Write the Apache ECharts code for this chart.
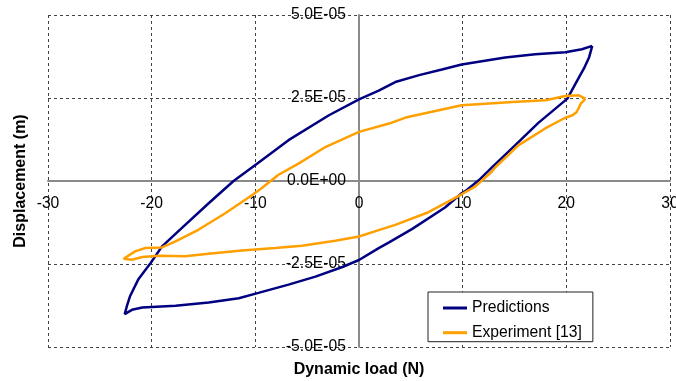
<!DOCTYPE html>
<html>
<head>
<meta charset="utf-8">
<script src="https://cdn.jsdelivr.net/npm/echarts@6/dist/echarts.min.js"></script>
<style>
  html, body { margin: 0; padding: 0; background: #fff; }
  #chart { width: 676px; height: 381px; }
</style>
</head>
<body>
<div id="chart"></div>
<script>
// Hysteresis loops: displacement versus dynamic load
const loadTicks = [-30, -20, -10, 0, 10, 20, 30];
const dispTicks = [-5.0e-5, -2.5e-5, 0, 2.5e-5, 5.0e-5];

// Predictions loop (load in N, displacement in m)
const predLoad = [22.5, 21.5, 19.9, 17.0, 14.1, 9.9, 8.0, 5.8, 3.5, 1.9, 0, -2.9, -6.8, -10.0, -12.1, -14.5, -17.0, -19.0, -20.1, -21.3, -22.1, -22.4, -22.6,
  -21.9, -20.9, -17.7, -14.5, -11.6, -9.7, -6.8, -4.2, -1.6, 0, 1.9, 2.9, 5.1, 8.3, 9.9, 10.4, 11.55, 12.8, 14.8, 17.3, 20.1, 20.9, 21.7, 22.2, 22.5];
const predDisp = [4.07e-5, 3.97e-5, 3.88e-5, 3.82e-5, 3.72e-5, 3.51e-5, 3.36e-5, 3.19e-5, 2.98e-5, 2.72e-5, 2.46e-5, 1.98e-5, 1.23e-5, 0.48e-5, 0.0, -0.67e-5, -1.39e-5, -1.97e-5, -2.47e-5, -2.97e-5, -3.48e-5, -3.78e-5, -4.01e-5,
  -3.88e-5, -3.81e-5, -3.76e-5, -3.66e-5, -3.53e-5, -3.37e-5, -3.12e-5, -2.88e-5, -2.59e-5, -2.38e-5, -2.02e-5, -1.85e-5, -1.45e-5, -0.80e-5, -0.37e-5, -0.27e-5, 0.02e-5, 0.40e-5, 1.0e-5, 1.75e-5, 2.48e-5, 2.94e-5, 3.39e-5, 3.73e-5, 4.07e-5];

// Experiment [13] loop
const expLoad = [21.85, 21.2, 19.9, 18.0, 14.8, 12.2, 9.9, 7.7, 4.5, 2.9, 0, -3.2, -5.8, -7.8, -9.4, -10.3, -12.9, -15.5, -17.7, -19.0, -20.6, -21.6, -22.7,
  -21.9, -20.9, -19.3, -16.8, -14.5, -11.3, -8.1, -5.5, -2.3, 0, 1.9, 3.5, 6.7, 8.6, 9.9, 11.2, 12.8, 13.2, 15.4, 18.0, 19.8, 20.6, 21.0, 21.4, 21.85];
const expDisp = [2.48e-5, 2.58e-5, 2.56e-5, 2.43e-5, 2.38e-5, 2.33e-5, 2.28e-5, 2.13e-5, 1.91e-5, 1.73e-5, 1.48e-5, 1.03e-5, 0.53e-5, 0.18e-5, -0.22e-5, -0.42e-5, -0.97e-5, -1.47e-5, -1.82e-5, -2.0e-5, -2.02e-5, -2.12e-5, -2.34e-5,
  -2.37e-5, -2.29e-5, -2.25e-5, -2.27e-5, -2.19e-5, -2.09e-5, -2.02e-5, -1.95e-5, -1.80e-5, -1.67e-5, -1.48e-5, -1.32e-5, -0.94e-5, -0.62e-5, -0.40e-5, -0.17e-5, 0.28e-5, 0.43e-5, 1.08e-5, 1.59e-5, 1.89e-5, 1.98e-5, 2.08e-5, 2.33e-5, 2.48e-5];

const seriesNames = ['Predictions', 'Experiment [13]'];
const FONT = '"Liberation Sans", Arial, sans-serif';

// plot box in pixels; the axes cross at the origin, halfway in each direction
const GRID = { left: 48, right: 6, top: 15, bottom: 34 };
const plotW = 676 - GRID.left - GRID.right;
const plotH = 381 - GRID.top - GRID.bottom;

function pairs(xs, ys) { return xs.map((x, i) => [x, ys[i]]); }

function sciLabel(v) {
  if (Math.abs(v) < 1e-15) v = 0;
  const m = v.toExponential(1).match(/^(-?[\d.]+)e([+-])(\d+)$/);
  return m[1] + 'E' + m[2] + m[3].padStart(2, '0');
}

const chart = echarts.init(document.getElementById('chart'), null, { renderer: 'canvas' });
chart.setOption({
  animation: false,
  backgroundColor: '#fff',
  grid: Object.assign({ containLabel: false, outerBoundsMode: 'none' }, GRID),
  xAxis: {
    type: 'value',
    min: loadTicks[0], max: loadTicks[loadTicks.length - 1], interval: 10,
    offset: -plotH / 2,
    axisLine: { onZero: false, lineStyle: { color: '#8a8a8a', width: 2 } },
    axisTick: { show: false },
    axisLabel: { color: '#000', fontFamily: FONT, fontSize: 15.7, margin: 15 },
    splitLine: { show: true, lineStyle: { color: '#444', type: [3, 3], width: 1 } }
  },
  yAxis: {
    type: 'value',
    min: dispTicks[0], max: dispTicks[dispTicks.length - 1], interval: 2.5e-5,
    offset: -plotW / 2,
    axisLine: { onZero: false, lineStyle: { color: '#8a8a8a', width: 2 } },
    axisTick: { show: false },
    axisLabel: { color: '#000', fontFamily: FONT, fontSize: 15.7, margin: 13, formatter: sciLabel },
    splitLine: { show: true, lineStyle: { color: '#444', type: [3, 3], width: 1 } }
  },
  legend: {
    orient: 'vertical',
    left: 428, top: 292,
    padding: [8, 11, 1, 15],
    itemGap: 8.7,
    icon: 'rect',
    itemWidth: 24, itemHeight: 3,
    borderColor: '#222', borderWidth: 1, borderRadius: 0,
    backgroundColor: '#fff',
    data: seriesNames,
    textStyle: { color: '#000', fontFamily: FONT, fontSize: 15.7 }
  },
  graphic: [
    { type: 'text', x: 359, y: 370,
      style: { text: 'Dynamic load (N)', font: 'bold 16px ' + FONT, fill: '#000', align: 'center', verticalAlign: 'middle' } },
    { type: 'text', x: 21, y: 181, rotation: Math.PI / 2,
      style: { text: 'Displacement (m)', font: 'bold 16px ' + FONT, fill: '#000', align: 'center', verticalAlign: 'middle' } }
  ],
  series: [
    { name: seriesNames[0], type: 'line', data: pairs(predLoad, predDisp),
      showSymbol: false, symbol: 'none', smooth: false,
      lineStyle: { color: '#000080', width: 2.5 }, itemStyle: { color: '#000080' } },
    { name: seriesNames[1], type: 'line', data: pairs(expLoad, expDisp),
      showSymbol: false, symbol: 'none', smooth: false,
      lineStyle: { color: '#FFA000', width: 2.5 }, itemStyle: { color: '#FFA000' } }
  ]
});
</script>
</body>
</html>
